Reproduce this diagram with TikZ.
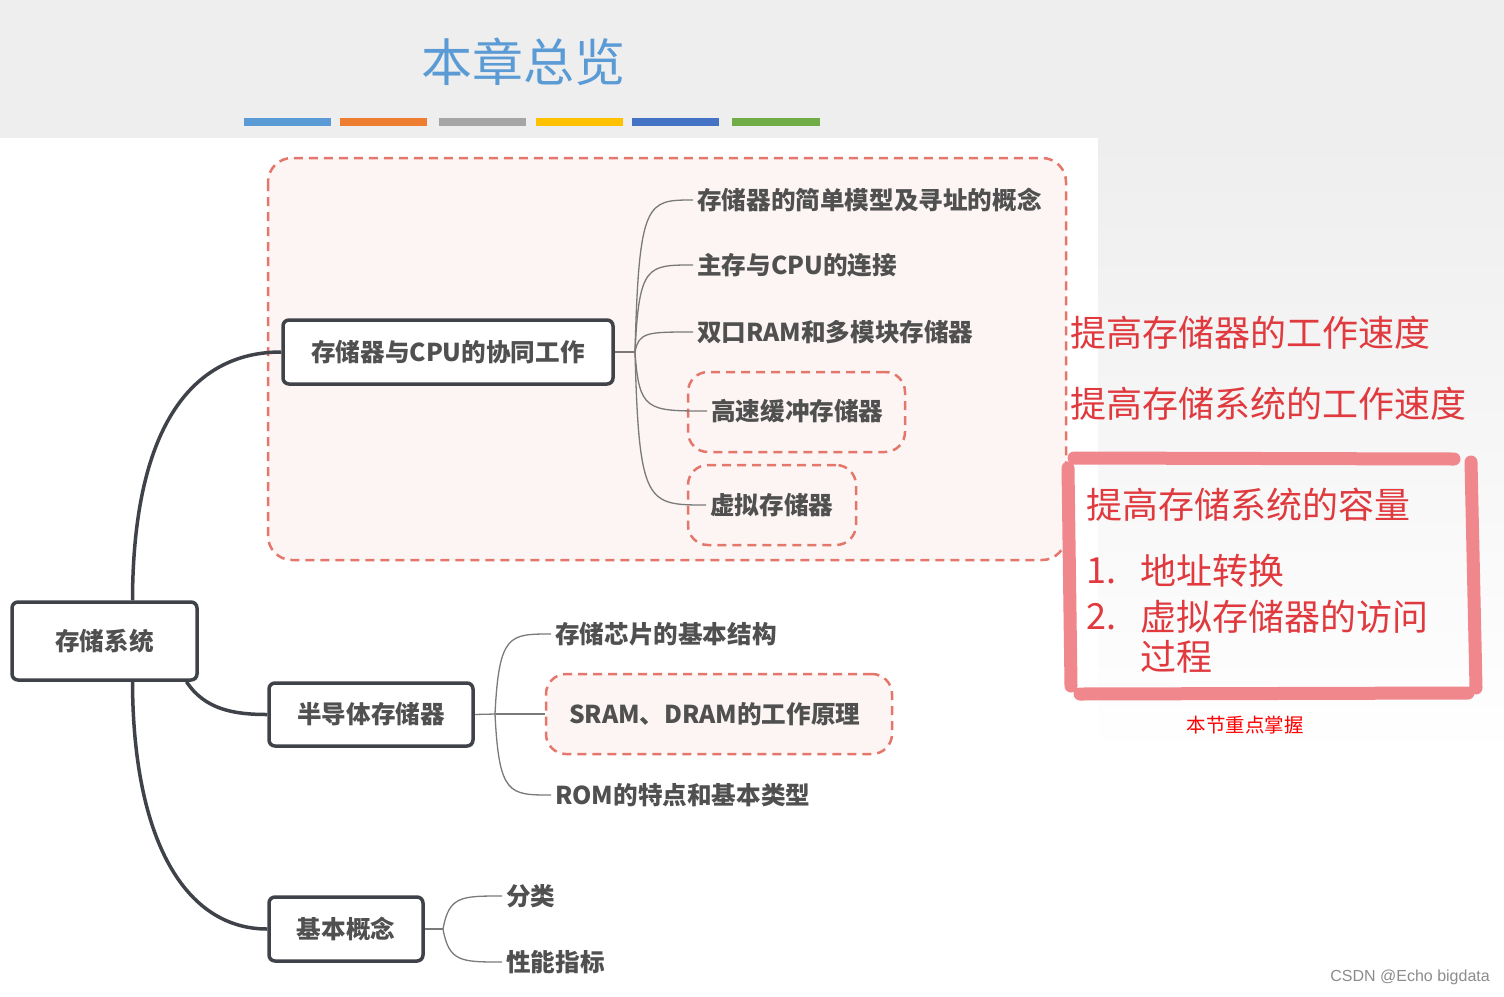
\documentclass[tikz,border=0pt]{standalone}
\usepackage{fontspec}
\setmainfont{Noto Sans CJK SC}
\newfontfamily\wmfont{Liberation Sans}
\usetikzlibrary{calc,fit}
\definecolor{topbg}{HTML}{EEEEEE}
\definecolor{titleblue}{HTML}{5B9BD5}
\definecolor{barblue}{HTML}{5B9BD5}
\definecolor{barorange}{HTML}{ED7D31}
\definecolor{bargray}{HTML}{A5A5A5}
\definecolor{baryellow}{HTML}{FFC000}
\definecolor{bardblue}{HTML}{4472C4}
\definecolor{bargreen}{HTML}{70AD47}
\definecolor{boxline}{HTML}{3F4349}
\definecolor{txtgray}{HTML}{505050}
\definecolor{thinline}{HTML}{7A7A7A}
\definecolor{dashred}{HTML}{E5766C}
\definecolor{pinkfill}{HTML}{FCF5F3}
\definecolor{redtxt}{HTML}{E0393E}
\definecolor{hlpink}{HTML}{F0878D}
\begin{document}
\begin{tikzpicture}[x=1pt,y=-1pt,
  mainbox/.style={draw=boxline,line width=3.5pt,rounded corners=6pt,fill=white,
    text=txtgray,font=\fontsize{24.6}{28}\selectfont\bfseries,inner sep=0pt},
  leaf/.style={anchor=west,inner xsep=4pt,inner ysep=0pt,text=txtgray,
    font=\fontsize{24.6}{28}\selectfont\bfseries},
  dbox/.style={draw=dashred,line width=2.5pt,dash pattern=on 9pt off 6pt,
    rounded corners=20pt,fill=pinkfill,inner sep=0pt},
  thick conn/.style={draw=boxline,line width=3.5pt},
  thin conn/.style={draw=thinline,line width=1.3pt},
  bar/.style={line width=8pt},
  redbig/.style={anchor=west,inner sep=0pt,text=redtxt,font=\fontsize{36}{40}\selectfont},
  hl/.style={draw=hlpink,line width=13pt,line cap=round}
]
% background
\fill[white] (0,0) rectangle (1504,996);
\shade[top color=topbg,bottom color=white] (1098,138) rectangle (1504,760);
\fill[topbg] (0,0) rectangle (1504,138);
% title
\node[text=titleblue,font=\fontsize{51}{56}\selectfont,inner sep=0pt] (title) at (523,62) {本章总览};
\draw[bar,barblue] (244,122) -- (331,122);
\draw[bar,barorange] (340,122) -- (427,122);
\draw[bar,bargray] (439,122) -- (526,122);
\draw[bar,baryellow] (536,122) -- (623,122);
\draw[bar,bardblue] (632,122) -- (719,122);
\draw[bar,bargreen] (732,122) -- (820,122);
% big dashed region
\draw[dbox,rounded corners=24pt] (268,158) rectangle (1066,560);
% main nodes
\node[mainbox,minimum width=185pt,minimum height=78pt] (root) at (104.5,641) {存储系统};
\node[mainbox,minimum width=330pt,minimum height=64pt] (n1) at (448,352) {存储器与CPU的协同工作};
\node[mainbox,minimum width=204pt,minimum height=63pt] (n2) at (371,714.5) {半导体存储器};
\node[mainbox,minimum width=154pt,minimum height=64pt] (n3) at (346,929) {基本概念};
% main connectors
\draw[thick conn] ([xshift=28pt]root.north) .. controls (133,430) and (190,352) .. (n1.west);
\draw[thick conn] ([xshift=82pt]root.south) .. controls (205,710) and (235,714.5) .. (n2.west);
\draw[thick conn] ([xshift=28pt]root.south) .. controls (133,840) and (185,929) .. (n3.west);
% branch 1 children
\node[dbox,minimum width=217pt,minimum height=80pt] (b4) at (796.5,412) {};
\node[dbox,minimum width=168pt,minimum height=80pt] (b5) at (772,505) {};
\node[leaf] (c1) at (693,200) {存储器的简单模型及寻址的概念};
\node[leaf] (c2) at (693,265) {主存与CPU的连接};
\node[leaf] (c3) at (693,332) {双口RAM和多模块存储器};
\node[leaf] (c4) at (707,411) {高速缓冲存储器};
\node[leaf] (c5) at (706,505) {虚拟存储器};
\coordinate (j1) at (635,352);
\draw[thin conn] (n1.east) -- (j1);
\foreach \c in {c1,c2,c3,c4,c5}{
  \draw[thin conn] (j1) .. controls ($(j1|-\c.west)+(4,0)$) and ($(j1|-\c.west)+(12,0)$) .. (\c.west);
}
% branch 2 children
\node[dbox,minimum width=346pt,minimum height=80pt] (b2) at (719,714) {};
\node[leaf] (s1) at (551,634) {存储芯片的基本结构};
\node[leaf] (s2) at (565,714) {SRAM、DRAM的工作原理};
\node[leaf] (s3) at (551,795) {ROM的特点和基本类型};
\coordinate (j2) at (495,714);
\draw[thin conn] (n2.east) -- (j2);
\draw[thin conn] (j2) -- (b2.west);
\foreach \c in {s1,s3}{
  \draw[thin conn] (j2) .. controls ($(j2|-\c.west)+(4,0)$) and ($(j2|-\c.west)+(14,0)$) .. (\c.west);
}
% branch 3 children
\node[leaf] (k1) at (502,896) {分类};
\node[leaf] (k2) at (502,962) {性能指标};
\coordinate (j3) at (443,929);
\draw[thin conn] (n3.east) -- (j3);
\foreach \c in {k1,k2}{
  \draw[thin conn] (j3) .. controls ($(j3|-\c.west)+(6,0)$) and ($(j3|-\c.west)+(18,0)$) .. (\c.west);
}
% right annotations
\node[redbig] (r1) at (1070,333) {提高存储器的工作速度};
\node[redbig] (r2) at (1070,404) {提高存储系统的工作速度};
% highlight box strokes
\draw[hl] (1074,458) -- (1454,459);
\draw[hl] (1471,462) -- (1476,688);
\draw[hl] (1080,694) -- (1468,693);
\draw[hl] (1068,468) -- (1071,686);
\node[redbig] (r3) at (1086,505) {提高存储系统的容量};
\node[redbig] (r4n) at (1086,571) {1.};
\node[redbig] (r4) at (1140,571) {地址转换};
\node[redbig] (r5n) at (1086,617) {2.};
\node[redbig] (r5) at (1140,617) {虚拟存储器的访问};
\node[redbig] (r6) at (1140,657) {过程};
\node[anchor=center,inner sep=0pt,text=red,font=\fontsize{19.5}{22}\selectfont] (note) at (1245,725) {本节重点掌握};
% watermark
\node[anchor=east,inner sep=0pt,text=black!45,font=\wmfont\fontsize{16}{18}\selectfont] (wm) at (1490,977) {CSDN @Echo bigdata};
\end{tikzpicture}
\end{document}
